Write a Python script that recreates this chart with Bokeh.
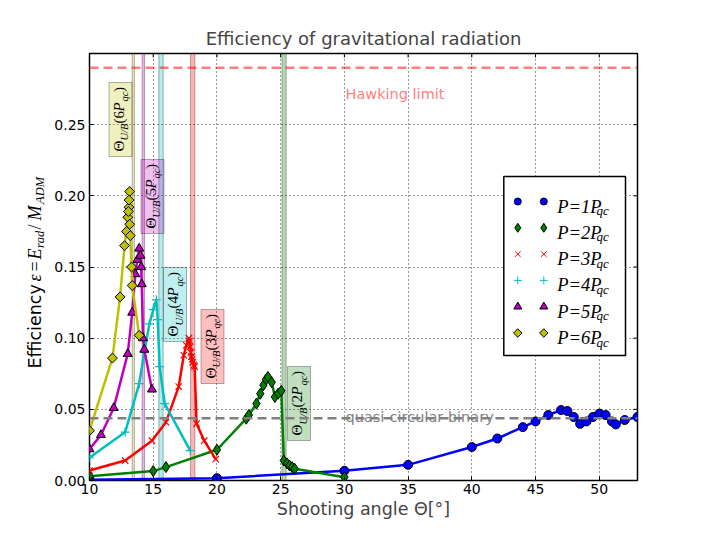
import numpy as np
from bokeh.plotting import figure
from bokeh.layouts import row
from bokeh.models import Span, Label, FixedTicker, PrintfTickFormatter, Range1d
from bokeh.core.properties import value
from bokeh.embed import file_html
from bokeh.resources import INLINE

# ---------------- data ----------------
p1_theta = [10, 20, 30, 35, 40, 42, 44, 45, 46, 47, 47.5, 48, 48.5, 49, 49.5, 50, 50.5, 51, 51.3, 52, 53]
p1_eff = [0.0005, 0.0016, 0.0068, 0.011, 0.0235, 0.0295, 0.0375, 0.0415, 0.046, 0.0495, 0.0488,
          0.0446, 0.0398, 0.0415, 0.0446, 0.047, 0.046, 0.0415, 0.0394, 0.0425, 0.0446]

p2_theta = [10, 15, 16, 20, 22.3, 22.5, 23.1, 23.4, 23.65, 23.85, 24.0, 24.3, 24.55, 24.8, 25.05,
            25.25, 25.5, 25.7, 25.9, 26.1, 30]
p2_eff = [0.003, 0.0066, 0.0094, 0.0216, 0.0434, 0.046, 0.054, 0.061, 0.067, 0.071, 0.0728, 0.069,
          0.0587, 0.061, 0.063, 0.014, 0.012, 0.0105, 0.0094, 0.0082, 0.0023]

p3_theta = [10, 12.8, 14.9, 16.0, 17.0, 17.4, 17.6, 17.8, 17.85, 17.9, 17.95, 18.0, 18.05, 18.1,
            18.2, 18.25, 18.4, 19.0, 19.9]
p3_eff = [0.007, 0.014, 0.028, 0.041, 0.066, 0.088, 0.095, 0.100, 0.098, 0.094, 0.090, 0.087, 0.085,
          0.083, 0.081, 0.080, 0.040, 0.028, 0.015]

p4_theta = [10, 12.8, 13.9, 14.3, 14.7, 15.0, 15.25, 15.35, 15.5, 15.9, 17.9]
p4_eff = [0.016, 0.034, 0.068, 0.090, 0.110, 0.120, 0.127, 0.113, 0.080, 0.054, 0.021]

p5_theta = [10, 10.9, 11.9, 13.0, 13.35, 13.6, 13.75, 13.9, 14.0, 14.05, 14.1, 14.2, 14.3, 14.9]
p5_eff = [0.022, 0.032, 0.051, 0.089, 0.118, 0.145, 0.155, 0.163, 0.158, 0.150, 0.138, 0.100, 0.092, 0.064]

p6_theta = [10, 11.8, 12.4, 12.75, 12.9, 13.0, 13.1, 13.15, 13.1, 13.05, 13.15, 13.2, 13.3, 13.35, 13.9]
p6_eff = [0.035, 0.086, 0.129, 0.165, 0.175, 0.185, 0.192, 0.203, 0.197, 0.189, 0.180, 0.172, 0.150,
          0.137, 0.102]

# Theta_U/B bands, order P=2..6
band_period = ["2", "3", "4", "5", "6"]
band_lo = [25.1, 17.93, 15.44, 14.13, 13.35]
band_hi = [25.43, 18.27, 15.78, 14.32, 13.52]

hawking_limit = 0.29
qc_binary = 0.0437

x_ticks = [10, 15, 20, 25, 30, 35, 40, 45, 50]
y_ticks = [0.0, 0.05, 0.10, 0.15, 0.20, 0.25]
series_labels = ["1", "2", "3", "4", "5", "6"]

# ---------------- layout / style ----------------
XMIN, XMAX, YMIN, YMAX = 10, 53, 0.0, 0.30
W, H = 708, 534
LW = 48                                 # width of the strip that carries the y-axis label
FL, FT, FW, FH = 89, 53, 548, 427      # frame in window pixels


def X(px):
    return XMIN + (px - FL) * (XMAX - XMIN) / FW


def Y(py):
    return YMIN + (FT + FH - py) * (YMAX - YMIN) / FH


colors = ["#0000ff", "#008000", "#ff0000", "#00bfbf", "#bf00bf", "#bfbf00"]
markers = ["circle", "diamond", "x", "cross", "triangle", "square"]
msizes = [9, 11, 9, 9, 9, 7]
mangles = [0, 0, 0, 0, 0, np.pi / 4]
leg_sizes = [7, 9, 8, 8, 8, 6]

p = figure(frame_width=FW, frame_height=FH, x_range=Range1d(XMIN, XMAX), y_range=Range1d(YMIN, YMAX),
           output_backend="svg", toolbar_location=None,
           min_border_left=FL - LW, min_border_top=FT, min_border_right=W - FL - FW,
           min_border_bottom=H - FT - FH,
           title="Efficiency of gravitational radiation")
p.title.text_font = "DejaVu Sans"
p.title.text_font_size = "18px"
p.title.text_font_style = "normal"
p.title.align = "center"
p.outline_line_color = "black"
p.outline_line_width = 1.5
p.background_fill_color = "white"
p.border_fill_color = "white"

for ax, ticks in ((p.xaxis[0], x_ticks), (p.yaxis[0], y_ticks)):
    ax.ticker = FixedTicker(ticks=ticks)
    ax.major_tick_in = 4
    ax.major_tick_out = 0
    ax.minor_tick_in = 0
    ax.minor_tick_out = 0
    ax.axis_line_color = None
    ax.major_label_text_font = "DejaVu Sans"
    ax.major_label_text_font_size = "14px"
    ax.major_label_text_color = "black"
p.xaxis[0].major_label_standoff = 3
p.yaxis[0].major_label_standoff = 4
p.yaxis[0].formatter = PrintfTickFormatter(format="%.2f")
p.xaxis[0].axis_label = "Shooting angle Θ[°]"
p.xaxis[0].axis_label_text_font = "DejaVu Sans"
p.xaxis[0].axis_label_text_font_size = "17.5px"
p.xaxis[0].axis_label_text_font_style = "normal"
p.xaxis[0].axis_label_standoff = 2

p.grid.grid_line_color = "black"
p.grid.grid_line_alpha = 0.8
p.grid.grid_line_dash = "1 3"
p.xgrid.ticker = FixedTicker(ticks=x_ticks)
p.ygrid.ticker = FixedTicker(ticks=y_ticks)

# inward ticks on the top and right edges
tick_len = 4
p.segment(x0=x_ticks, x1=x_ticks, y0=YMAX, y1=YMAX - tick_len * (YMAX - YMIN) / FH,
          line_color="black", line_width=1)
p.segment(x0=XMAX, x1=XMAX - tick_len * (XMAX - XMIN) / FW, y0=y_ticks, y1=y_ticks,
          line_color="black", line_width=1)

# Theta_U/B bands
band_colors = colors[1:]
p.quad(left=band_lo, right=band_hi, bottom=YMIN, top=YMAX, fill_color=band_colors, fill_alpha=0.3,
       line_color="black", line_alpha=0.3, line_width=1)

# reference lines
p.add_layout(Span(location=hawking_limit, dimension="width", line_color="red", line_alpha=0.5,
                  line_width=2.5, line_dash="9 5"))
p.add_layout(Span(location=qc_binary, dimension="width", line_color="#808080", line_alpha=1.0,
                  line_width=2.5, line_dash="9 5"))
p.add_layout(Label(x=X(345), y=Y(93), text="Hawking limit", text_color="#ff8080",
                   text_font="DejaVu Sans", text_font_size="14.5px", text_baseline="alphabetic"))
p.add_layout(Label(x=X(345), y=Y(416), text="quasi-circular binary", text_color="#808080",
                   text_font="DejaVu Sans", text_font_size="14.5px", text_baseline="alphabetic"))

# series
series = [(p1_theta, p1_eff), (p2_theta, p2_eff), (p3_theta, p3_eff),
          (p4_theta, p4_eff), (p5_theta, p5_eff), (p6_theta, p6_eff)]
for i, (xs, ys) in enumerate(series):
    c = colors[i]
    p.line(xs, ys, line_color=c, line_width=2.5)
    if markers[i] in ("x", "cross"):
        p.scatter(xs, ys, marker=markers[i], size=msizes[i], line_color=c, line_width=1.2)
    else:
        p.scatter(xs, ys, marker=markers[i], size=msizes[i], angle=mangles[i], fill_color=c,
                  line_color="black", line_width=1)

# Theta_U/B label boxes (window-pixel centres), order P=2..6
box_px = [(298.5, 403), (212, 346), (174.5, 304), (152, 196), (120, 119)]
bx = [X(a) for a, b in box_px]
by = [Y(b) for a, b in box_px]
BW, BH = 23, 74
p.rect(x=bx, y=by, width=BW, height=BH, width_units="screen", height_units="screen",
       fill_color=band_colors, fill_alpha=0.25, line_color="black", line_alpha=0.3, line_width=1)

pieces = [  # text, start along text from box bottom, style, size, subscript
    (["Θ"] * 5, 5, "normal", "15px", False),
    (["U/B"] * 5, 16, "italic", "10.5px", True),
    (["(" + n for n in band_period], 33, "normal", "15px", False),
    (["P"] * 5, 45, "italic", "15px", False),
    (["qc"] * 5, 55, "italic", "10.5px", True),
    ([")"] * 5, 64.5, "normal", "15px", False),
]
for txt, start, style, size, sub in pieces:
    p.text(x=bx, y=by, text=txt, angle=np.pi / 2, x_offset=(4 if sub else -2), y_offset=BH / 2 - start,
           text_font=value("Liberation Serif"), text_font_style=style, text_font_size=size,
           text_align="left", text_baseline="middle", text_color="black")

# legend (drawn like matplotlib's, two markers per entry)
p.quad(left=[X(503.3)], right=[X(625)], top=[Y(176)], bottom=[Y(355)], fill_color="white",
       line_color="black", line_width=1.5)
for i in range(6):
    r = 201 + 26.3 * i
    lx = [X(517.3), X(543.3)]
    ly = [Y(r), Y(r)]
    if markers[i] in ("x", "cross"):
        p.scatter(lx, ly, marker=markers[i], size=leg_sizes[i], line_color=colors[i], line_width=1)
    else:
        p.scatter(lx, ly, marker=markers[i], size=leg_sizes[i], angle=mangles[i], fill_color=colors[i],
                  line_color="black", line_width=1)
    p.text(x=[X(556.7)], y=[Y(r + 5)], text=["P=" + series_labels[i] + "P"],
           text_font=value("Liberation Serif"), text_font_style="italic", text_font_size="18.5px",
           text_baseline="alphabetic", text_align="left", text_color="black")
    p.text(x=[X(596)], y=[Y(r + 9)], text=["qc"],
           text_font=value("Liberation Serif"), text_font_style="italic", text_font_size="13px",
           text_baseline="alphabetic", text_align="left", text_color="black")

# ---------------- y-axis label strip (left of the plot) ----------------
# Bokeh aligns the frames of the row's plots, so this strip's frame spans window y FT..FT+FH;
# its y range is expressed as (H - window y) so the label pieces sit where the reference has them.
lab = figure(width=LW, height=H, x_range=Range1d(0, LW), y_range=Range1d(H - (FT + FH), H - FT),
             x_axis_type=None, y_axis_type=None, toolbar_location=None, output_backend="svg",
             min_border=0, outline_line_color=None)
lab.title.visible = False
lab.background_fill_color = "white"
lab.border_fill_color = "white"
ylab = [  # text, window-y start, font, size, style, sub
    ("Efficiency", 368, "DejaVu Sans", "17.5px", "normal", False),
    ("ε", 281, "Liberation Serif", "18px", "italic", False),
    ("=", 271, "Liberation Serif", "18px", "normal", False),
    ("E", 259, "Liberation Serif", "18px", "italic", False),
    ("rad", 247.5, "Liberation Serif", "12.5px", "italic", True),
    ("/", 229, "Liberation Serif", "18px", "normal", False),
    ("M", 220, "Liberation Serif", "18px", "italic", False),
    ("ADM", 203.5, "Liberation Serif", "12.5px", "italic", True),
]
for t, ys, font, size, style, sub in ylab:
    lab.text(x=[39 if sub else 34], y=[H - ys], text=[t], angle=np.pi / 2,
             text_font=value(font), text_font_size=size, text_font_style=style,
             text_align="left", text_baseline="middle", text_color="black")

layout = row(lab, p)
open("out.html", "w").write(file_html(layout, INLINE))
